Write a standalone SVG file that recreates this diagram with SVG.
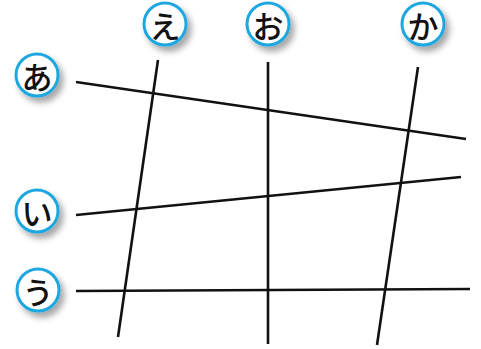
<svg xmlns="http://www.w3.org/2000/svg" width="481" height="349" viewBox="0 0 481 349">
<style>
.ln{stroke:#111;stroke-width:2.6;fill:none;stroke-linecap:butt}
.c{fill:#fff;stroke:#1ea7e1;stroke-width:3;filter:url(#sh)}
.t{font-family:"Noto Sans CJK JP",sans-serif;font-size:31px;font-weight:500;fill:#111;text-anchor:middle;dominant-baseline:central}
</style>
<defs>
<filter id="sh" x="-40%" y="-40%" width="190%" height="190%">
<feDropShadow dx="4" dy="5" stdDeviation="3" flood-color="#000" flood-opacity="0.35"/>
</filter>
</defs>
<rect width="481" height="349" fill="#fff"/>
<g id="connectors">
<line class="ln" x1="76" y1="82" x2="466" y2="139"/>
<line class="ln" x1="76" y1="215" x2="461" y2="177"/>
<line class="ln" x1="76" y1="291" x2="470" y2="289"/>
<line class="ln" x1="158" y1="60" x2="118" y2="337"/>
<line class="ln" x1="268" y1="62" x2="268" y2="344"/>
<line class="ln" x1="418" y1="67" x2="377" y2="345"/>
</g>
<g id="a"><circle class="c" cx="37" cy="75" r="21"/><text class="t" x="37" y="75">あ</text></g>
<g id="i"><circle class="c" cx="37" cy="211" r="21"/><text class="t" x="37" y="211">い</text></g>
<g id="u"><circle class="c" cx="38" cy="290" r="21"/><text class="t" x="38" y="290">う</text></g>
<g id="e"><circle class="c" cx="165" cy="24" r="21"/><text class="t" x="165" y="24">え</text></g>
<g id="o"><circle class="c" cx="268" cy="24" r="21"/><text class="t" x="268" y="24">お</text></g>
<g id="ka"><circle class="c" cx="423" cy="24" r="21"/><text class="t" x="423" y="24">か</text></g>
</svg>
